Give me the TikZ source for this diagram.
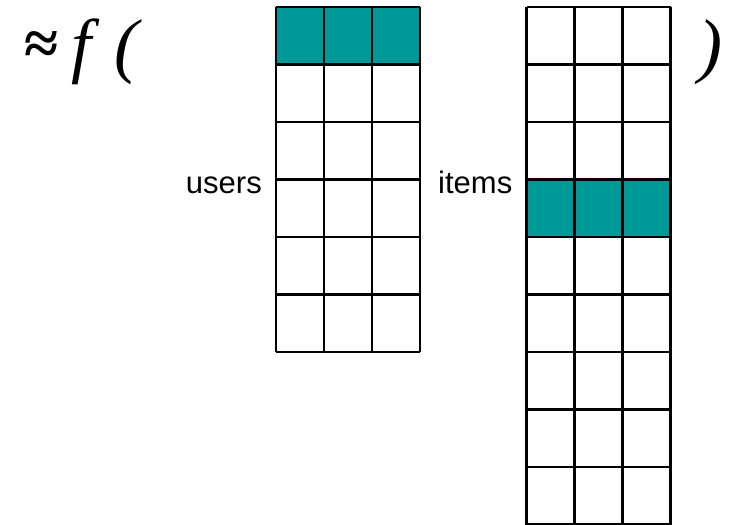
\documentclass[tikz,border=0pt]{standalone}
\usepackage{fontspec}
\setmainfont{Liberation Serif}
\newfontfamily\labelfont{Liberation Sans}
\definecolor{cellteal}{RGB}{0,153,153}

\begin{document}
\begin{tikzpicture}
  [x=1pt,y=-1pt,line width=2.4pt,
   every node/.style={inner sep=0pt},
   label/.style={font=\labelfont\fontsize{31}{31}\selectfont},
   big/.style={font=\itshape\fontsize{72}{72}\selectfont}]
  \useasboundingbox (0,0) rectangle (743,524);
  \clip (0,0) rectangle (743,524);

  % highlighted rows
  \fill[cellteal] (276,7) rectangle (420,64.5);
  \fill[cellteal] (526.5,179.5) rectangle (670.5,237);

  % users matrix: 3 x 6
  \foreach \i in {0,...,6}
    \draw (276,7+57.5*\i) -- (420,7+57.5*\i);
  \foreach \j in {0,...,3}
    \draw (276+48*\j,7) -- (276+48*\j,352);

  % items matrix: 3 x 9
  \foreach \i in {0,...,9}
    \draw (526.5,7+57.5*\i) -- (670.5,7+57.5*\i);
  \foreach \j in {0,...,3}
    \draw (526.5+48*\j,7) -- (526.5+48*\j,524.5);

  \node[label,anchor=base east] (users) at (263,193) {users};
  \node[label,anchor=base west] (items) at (437,193) {items};

  \node[font=\bfseries\fontsize{62}{62}\selectfont] (approx) at (41.5,48.5) {≈};
  \node[big,anchor=base west] (fname) at (70,70) {f};
  \node[big,anchor=base west] (lparen) at (113,70) {(};
  \node[big,anchor=base west] (rparen) at (697,70) {)};
\end{tikzpicture}
\end{document}
